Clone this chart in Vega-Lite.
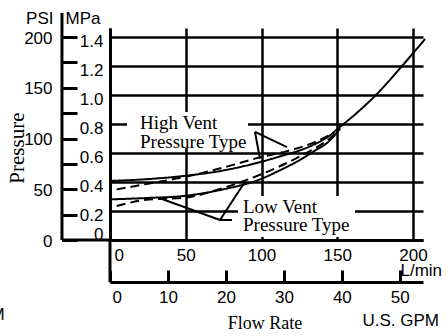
{
  "$schema": "https://vega.github.io/schema/vega-lite/v6.json",
  "width": 313,
  "height": 212,
  "autosize": {"type": "none"},
  "padding": {"left": 110, "top": 28, "right": 24, "bottom": 96},
  "background": "white",
  "config": {
    "view": {"stroke": null},
    "font": "Liberation Sans",
    "axis": {
      "labelColor": "black", "titleColor": "black", "domainColor": "black",
      "tickColor": "black", "gridColor": "black", "gridOpacity": 1,
      "labelFont": "Liberation Sans", "titleFont": "Liberation Sans",
      "labelFontSize": 17, "titleFontSize": 17, "titleFontWeight": "normal",
      "domainWidth": 3, "tickWidth": 3, "gridWidth": 2.5,
      "labelFlush": false, "labelOverlap": false
    }
  },
  "layer": [
    {
      "layer": [
        {
          "data": {"values": [
            {"L": 11.2, "L2": 91.1, "M": 0.634, "M2": 0.883},
            {"L": 84.5, "L2": 161.7, "M": 0.02, "M2": 0.303}
          ]},
          "mark": {"type": "rect", "fill": "white"},
          "encoding": {
            "x": {"field": "L", "type": "quantitative",
              "scale": {"domain": [0, 206.6], "nice": false, "zero": false},
              "axis": {
                "values": [0, 50, 100, 150, 200], "tickCount": 20, "grid": true, "ticks": false,
                "labelPadding": 7, "labelBaseline": "top",
                "labelAlign": {"condition": {"test": "datum.value == 0", "value": "left"}, "value": "center"},
                "labelOffset": {"condition": {"test": "datum.value == 0", "value": 4}, "value": 0},
                "title": "L/min", "titleX": 290, "titleY": 30, "titleAlign": "left",
                "titleBaseline": "middle", "titleAngle": 0
              }},
            "x2": {"field": "L2"},
            "y": {"field": "M", "type": "quantitative",
              "scale": {"domain": [0, 1.462], "nice": false, "zero": false},
              "axis": {
                "values": [0, 0.2, 0.4, 0.6, 0.8, 1.0, 1.2, 1.4], "tickCount": 20, "grid": true, "ticks": false,
                "labelPadding": 7, "labelBaseline": "middle",
                "labelOffset": {"condition": {"test": "datum.value == 0", "value": -6}, "value": 5},
                "labelExpr": "datum.value == 0 ? '0' : format(datum.value, '.1f')",
                "title": "MPa", "titleAngle": 0, "titleX": -45, "titleY": -9.5,
                "titleAlign": "left", "titleBaseline": "middle"
              }},
            "y2": {"field": "M2"}
          }
        },
        {
          "data": {"values": [
            {"L": -31.7, "L2": 0, "M": 0, "M2": 0},
            {"L": 0, "L2": 0, "M": 0, "M2": -0.29},
            {"L": -31.7, "L2": -31.7, "M": 0, "M2": 1.566}
          ]},
          "mark": {"type": "rule", "color": "black", "strokeWidth": 3},
          "encoding": {
            "x": {"field": "L", "type": "quantitative"},
            "x2": {"field": "L2"},
            "y": {"field": "M", "type": "quantitative"},
            "y2": {"field": "M2"}
          }
        },
        {
          "data": {"values": [
            {"id": "hs", "s": "solid", "L": 0, "M": 0.407},
            {"id": "hs", "s": "solid", "L": 25, "M": 0.42},
            {"id": "hs", "s": "solid", "L": 50, "M": 0.443},
            {"id": "hs", "s": "solid", "L": 75, "M": 0.48},
            {"id": "hs", "s": "solid", "L": 100, "M": 0.54},
            {"id": "hs", "s": "solid", "L": 115, "M": 0.585},
            {"id": "hs", "s": "solid", "L": 125, "M": 0.617},
            {"id": "hs", "s": "solid", "L": 135, "M": 0.66},
            {"id": "hs", "s": "solid", "L": 145, "M": 0.72},
            {"id": "hs", "s": "solid", "L": 150, "M": 0.765},
            {"id": "hs", "s": "solid", "L": 160, "M": 0.85},
            {"id": "hs", "s": "solid", "L": 176, "M": 1.005},
            {"id": "hs", "s": "solid", "L": 194, "M": 1.215},
            {"id": "hs", "s": "solid", "L": 208, "M": 1.386},
            {"id": "ls", "s": "solid", "L": 0, "M": 0.28},
            {"id": "ls", "s": "solid", "L": 25, "M": 0.29},
            {"id": "ls", "s": "solid", "L": 48, "M": 0.303},
            {"id": "ls", "s": "solid", "L": 75, "M": 0.35},
            {"id": "ls", "s": "solid", "L": 99, "M": 0.418},
            {"id": "ls", "s": "solid", "L": 112, "M": 0.48},
            {"id": "ls", "s": "solid", "L": 125, "M": 0.55},
            {"id": "ls", "s": "solid", "L": 135, "M": 0.615},
            {"id": "ls", "s": "solid", "L": 145, "M": 0.685},
            {"id": "ls", "s": "solid", "L": 152, "M": 0.77},
            {"id": "hd", "s": "dash", "L": 4.4, "M": 0.349},
            {"id": "hd", "s": "dash", "L": 26, "M": 0.39},
            {"id": "hd", "s": "dash", "L": 48, "M": 0.432},
            {"id": "hd", "s": "dash", "L": 75, "M": 0.5},
            {"id": "hd", "s": "dash", "L": 99, "M": 0.57},
            {"id": "hd", "s": "dash", "L": 117, "M": 0.613},
            {"id": "hd", "s": "dash", "L": 136, "M": 0.678},
            {"id": "hd", "s": "dash", "L": 148, "M": 0.74},
            {"id": "ld", "s": "dash", "L": 4.4, "M": 0.234},
            {"id": "ld", "s": "dash", "L": 26, "M": 0.28},
            {"id": "ld", "s": "dash", "L": 48, "M": 0.29},
            {"id": "ld", "s": "dash", "L": 75, "M": 0.36},
            {"id": "ld", "s": "dash", "L": 99, "M": 0.45},
            {"id": "ld", "s": "dash", "L": 125, "M": 0.575},
            {"id": "ld", "s": "dash", "L": 145, "M": 0.7},
            {"id": "ld", "s": "dash", "L": 150, "M": 0.745}
          ]},
          "mark": {"type": "line", "color": "black", "strokeWidth": 2, "interpolate": "monotone"},
          "encoding": {
            "x": {"field": "L", "type": "quantitative"},
            "y": {"field": "M", "type": "quantitative"},
            "detail": {"field": "id"},
            "strokeDash": {"field": "s", "type": "nominal",
              "scale": {"domain": ["solid", "dash"], "range": [[1, 0], [9, 5]]}, "legend": null}
          }
        },
        {
          "data": {"values": [
            {"id": "h1", "o": 0, "L": 95.7, "M": 0.745},
            {"id": "h1", "o": 1, "L": 99, "M": 0.56},
            {"id": "h2", "o": 0, "L": 95.7, "M": 0.745},
            {"id": "h2", "o": 1, "L": 116.8, "M": 0.64},
            {"id": "l1", "o": 0, "L": 33, "M": 0.288},
            {"id": "l1", "o": 1, "L": 72.6, "M": 0.138},
            {"id": "l1", "o": 2, "L": 89.1, "M": 0.402},
            {"id": "l2", "o": 0, "L": 72.6, "M": 0.138},
            {"id": "l2", "o": 1, "L": 80.5, "M": 0.138}
          ]},
          "mark": {"type": "line", "color": "black", "strokeWidth": 2},
          "encoding": {
            "x": {"field": "L", "type": "quantitative"},
            "y": {"field": "M", "type": "quantitative"},
            "detail": {"field": "id"},
            "order": {"field": "o"}
          }
        },
        {
          "data": {"values": [
            {"L": 19.8, "M": 0.807, "t": "High Vent"},
            {"L": 19.8, "M": 0.676, "t": "Pressure Type"},
            {"L": 87.8, "M": 0.228, "t": "Low Vent"},
            {"L": 87.8, "M": 0.103, "t": "Pressure Type"}
          ]},
          "mark": {"type": "text", "font": "Liberation Serif", "fontSize": 19, "align": "left", "baseline": "middle", "color": "black"},
          "encoding": {
            "x": {"field": "L", "type": "quantitative"},
            "y": {"field": "M", "type": "quantitative"},
            "text": {"field": "t"}
          }
        },
        {
          "data": {"values": [{"L": -60.4, "M": 0.634, "t": "Pressure"}]},
          "mark": {"type": "text", "font": "Liberation Serif", "fontSize": 21, "angle": 270, "align": "center", "baseline": "middle", "color": "black"},
          "encoding": {
            "x": {"field": "L", "type": "quantitative"},
            "y": {"field": "M", "type": "quantitative"},
            "text": {"field": "t"}
          }
        },
        {
          "data": {"values": [{"L": 102.3, "M": -0.579, "t": "Flow Rate"}]},
          "mark": {"type": "text", "font": "Liberation Serif", "fontSize": 18, "align": "center", "baseline": "middle", "color": "black"},
          "encoding": {
            "x": {"field": "L", "type": "quantitative"},
            "y": {"field": "M", "type": "quantitative"},
            "text": {"field": "t"}
          }
        },
        {
          "data": {"values": [{"L": -69.6, "M": -0.52, "t": "U.S. GPM"}]},
          "mark": {"type": "text", "font": "Liberation Sans", "fontSize": 17, "align": "right", "baseline": "middle", "color": "black"},
          "encoding": {
            "x": {"field": "L", "type": "quantitative"},
            "y": {"field": "M", "type": "quantitative"},
            "text": {"field": "t"}
          }
        }
      ]
    },
    {
      "data": {"values": [{"G": 0}, {"G": 50}]},
      "mark": {"type": "point", "opacity": 0},
      "encoding": {
        "x": {"field": "G", "type": "quantitative",
          "scale": {"domain": [0, 54], "nice": false, "zero": false},
          "axis": {
            "orient": "bottom", "offset": 42, "values": [0, 10, 20, 30, 40, 50], "tickCount": 20,
            "grid": false, "tickSize": -12, "labelPadding": 19, "labelBaseline": "top",
            "labelAlign": {"condition": {"test": "datum.value == 0", "value": "left"}, "value": "center"},
            "labelOffset": {"condition": {"test": "datum.value == 0", "value": 2}, "value": 0},
            "title": "U.S. GPM", "titleX": 252, "titleY": 38, "titleAlign": "left",
            "titleBaseline": "middle", "titleAngle": 0
          }}
      }
    },
    {
      "data": {"values": [{"P": 0}, {"P": 200}]},
      "mark": {"type": "point", "opacity": 0},
      "encoding": {
        "y": {"field": "P", "type": "quantitative",
          "scale": {"domain": [0, 208.9], "nice": false, "zero": false},
          "axis": {
            "orient": "left", "offset": 48,
            "values": [0, 25, 50, 75, 100, 125, 150, 175, 200], "tickCount": 20,
            "grid": false, "domain": false, "tickSize": -15, "labelPadding": 25,
            "labelExpr": "datum.value % 50 == 0 ? datum.label : ''",
            "labelBaseline": "middle", "labelOffset": 1,
            "title": "PSI", "titleAngle": 0, "titleX": -9, "titleY": -9.5,
            "titleAlign": "right", "titleBaseline": "middle"
          }}
      }
    }
  ],
  "resolve": {"scale": {"x": "independent", "y": "independent"}}
}
